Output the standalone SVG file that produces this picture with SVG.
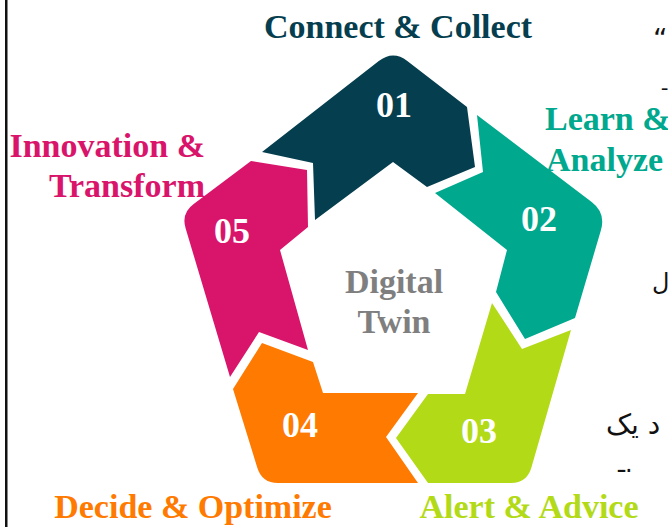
<svg xmlns="http://www.w3.org/2000/svg" width="668" height="527" viewBox="0 0 668 527">
<style>
.lbl{font-family:"Liberation Serif","Times New Roman",serif;font-weight:bold;font-size:34px}
.num{font-family:"Liberation Serif","Times New Roman",serif;font-weight:bold;font-size:36px;fill:#ffffff;text-anchor:middle}
.ar{font-family:"DejaVu Sans",sans-serif;fill:#111111}
</style>
<rect x="0" y="0" width="668" height="527" fill="#ffffff"/>
<rect x="5" y="0" width="2.5" height="527" fill="#111111"/>
<g id="node-01">
<path d="M262,152 L378.8,61.1 Q393,50 407.3,61 L467,107 L475,167 L427,187 L393,162 L315,220 L313,163 Z" fill="#053E4E"/>
<text class="num" x="394" y="117">01</text>
<text class="lbl" x="398" y="38" text-anchor="middle" fill="#053E4E">Connect &amp; Collect</text>
</g>
<g id="node-02">
<path d="M477,115 L591.7,202.1 Q606,213 600.9,230.3 L575,318 L525,339 L496,292 L507,250 L435,193 L483,172 Z" fill="#00A88E"/>
<text class="num" x="539" y="231">02</text>
<text class="lbl" x="545" y="130" fill="#00A88E">Learn &amp;</text>
<text class="lbl" x="546" y="171" fill="#00A88E">Analyze</text>
</g>
<g id="node-03">
<path d="M571,330 L531.4,467.6 Q527,483 511,483 L428,483 L396,438 L428,394 L465,394 L492,303 L522,349 Z" fill="#B2DA16"/>
<text class="num" x="479" y="443">03</text>
<text class="lbl" x="529" y="518" text-anchor="middle" fill="#B2DA16">Alert &amp; Advice</text>
</g>
<g id="node-04">
<path d="M418,483 L278,483 Q262,483 257.3,467.7 L233,389 L262,343 L313,362 L323,393 L418,393 L386,437 Z" fill="#FF7A00"/>
<text class="num" x="300" y="437">04</text>
<text class="lbl" x="193" y="518" text-anchor="middle" fill="#FF7A00">Decide &amp; Optimize</text>
</g>
<g id="node-05">
<path d="M230,377 L185.6,228.3 Q181,213 194,203.7 L251,161 L307,170 L308,227 L280,250 L308,350 L259,332 Z" fill="#D9156B"/>
<text class="num" x="232" y="243">05</text>
<text class="lbl" x="205" y="157" text-anchor="end" fill="#D9156B">Innovation &amp;</text>
<text class="lbl" x="205" y="197" text-anchor="end" fill="#D9156B">Transform</text>
</g>
<g id="center">
<text class="lbl" x="394" y="293" text-anchor="middle" fill="#7F7F7F">Digital</text>
<text class="lbl" x="394" y="333" text-anchor="middle" fill="#7F7F7F">Twin</text>
</g>
<g id="connectors"></g>
<g id="background-text">
<text class="ar" x="653" y="49" font-size="28" font-family="Liberation Serif">“</text>
<text class="ar" x="662" y="90" font-size="18">ـ</text>
<text class="ar" x="652" y="290" font-size="24">ل</text>
<text class="ar" x="606" y="434" font-size="28">د یک</text>
<text class="ar" x="618" y="472" font-size="24">ـ.</text>
</g>
</svg>
